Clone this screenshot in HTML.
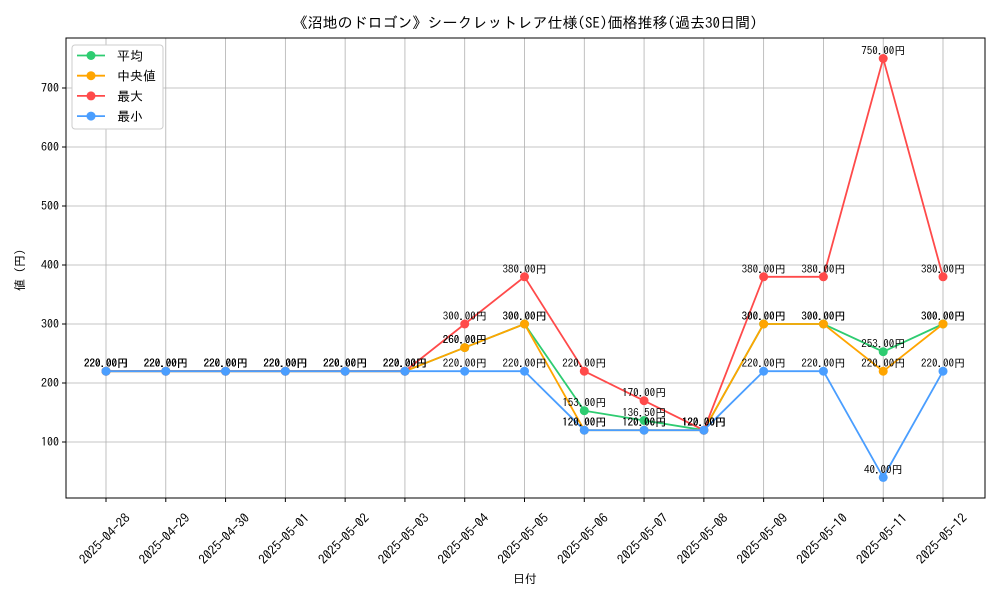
<!DOCTYPE html>
<html><head><meta charset="utf-8"><style>
body{margin:0;background:#fff;}
svg text{font-family:"IPAGothic","Noto Sans CJK JP",sans-serif;}
</style></head><body>
<svg id="chart" width="1000" height="600" xmlns="http://www.w3.org/2000/svg">
<rect width="1000" height="600" fill="#fff"/>
<text x="525" y="28" font-size="15" text-anchor="middle">《沼地のドロゴン》シークレットレア仕様(SE)価格推移(過去30日間)</text>
<g id="grid"></g><g id="axes"></g><g id="series"></g><g id="labels"></g>
<text x="525" y="583" font-size="12" text-anchor="middle">日付</text>
<text transform="translate(24,270) rotate(-90)" font-size="12" text-anchor="middle">値 (円)</text>
<g id="legend"></g>
</svg>
<script>
const categories=["2025-04-28","2025-04-29","2025-04-30","2025-05-01","2025-05-02","2025-05-03","2025-05-04","2025-05-05","2025-05-06","2025-05-07","2025-05-08","2025-05-09","2025-05-10","2025-05-11","2025-05-12"];
const avgValues=[220,220,220,220,220,220,260,300,153,136.5,120,300,300,253,300];
const medianValues=[220,220,220,220,220,220,260,300,120,120,120,300,300,220,300];
const maxValues=[220,220,220,220,220,220,300,380,220,170,120,380,380,750,380];
const minValues=[220,220,220,220,220,220,220,220,120,120,120,220,220,40,220];
const yTicks=[100,200,300,400,500,600,700];
const seriesNames=["平均","中央値","最大","最小"];
const seriesColors=["#2ecc71","#ffa500","#ff4a4a","#4a9eff"];
const NS="http://www.w3.org/2000/svg";
const L=66,R=985,T=38,B=498;
const x=i=>106+i*(943-106)/(categories.length-1);
const y=v=>501-v*0.59;
function mk(tag,attrs,parent){const e=document.createElementNS(NS,tag);for(const k in attrs)e.setAttribute(k,attrs[k]);parent.appendChild(e);return e;}
const grid=document.getElementById('grid'),axes=document.getElementById('axes'),ser=document.getElementById('series'),lab=document.getElementById('labels'),leg=document.getElementById('legend');
categories.forEach((c,i)=>{
 const g=mk('line',{x1:x(i),x2:x(i),y1:T,y2:B,stroke:'#b0b0b0','stroke-width':0.8},grid);
 
 
 mk('line',{x1:x(i),x2:x(i),y1:B,y2:B+4,stroke:'#000'},axes);
 const cx=x(i)-1, cy=B+41;
 const t=mk('text',{x:cx,y:cy+4,'font-size':13,'text-anchor':'middle',transform:`rotate(-45 ${cx} ${cy})`},axes);
 t.textContent=c;
 
 
});
yTicks.forEach(v=>{
 const g=mk('line',{x1:L,x2:R,y1:y(v),y2:y(v),stroke:'#b0b0b0','stroke-width':0.8},grid);
 
 
 mk('line',{x1:L-4,x2:L,y1:y(v),y2:y(v),stroke:'#000'},axes);
 const t=mk('text',{x:L-7,y:y(v)+4,'font-size':12,'text-anchor':'end'},axes);
 t.textContent=v;
 
 
});
const fr=mk('rect',{x:L,y:T,width:R-L,height:B-T,fill:'none',stroke:'#000','stroke-width':1},axes);


[avgValues,medianValues,maxValues,minValues].forEach((vals,s)=>{
 const p=mk('polyline',{points:vals.map((v,i)=>x(i)+','+y(v)).join(' '),fill:'none',stroke:seriesColors[s],'stroke-width':1.8},ser);
 
 
 vals.forEach((v,i)=>{
  const c=mk('circle',{cx:x(i),cy:y(v),r:4.5,fill:seriesColors[s]},ser);
  
  
  const t=mk('text',{x:x(i),y:y(v)-4,'font-size':11,'text-anchor':'middle'},lab);
  t.textContent=v.toFixed(2)+'円';
  
  
 });
});
const lb=mk('rect',{x:72,y:45,width:91,height:84,fill:'#fff',stroke:'#ccc',rx:3},leg);


seriesNames.forEach((n,s)=>{
 const yy=55.5+s*20.2;
 mk('line',{x1:77,x2:105,y1:yy,y2:yy,stroke:seriesColors[s],'stroke-width':1.8},leg);
 mk('circle',{cx:91,cy:yy,r:4.5,fill:seriesColors[s]},leg);
 const t=mk('text',{x:117,y:yy+5,'font-size':13},leg);
 t.textContent=n;
 
 
});
</script>
</body></html>
